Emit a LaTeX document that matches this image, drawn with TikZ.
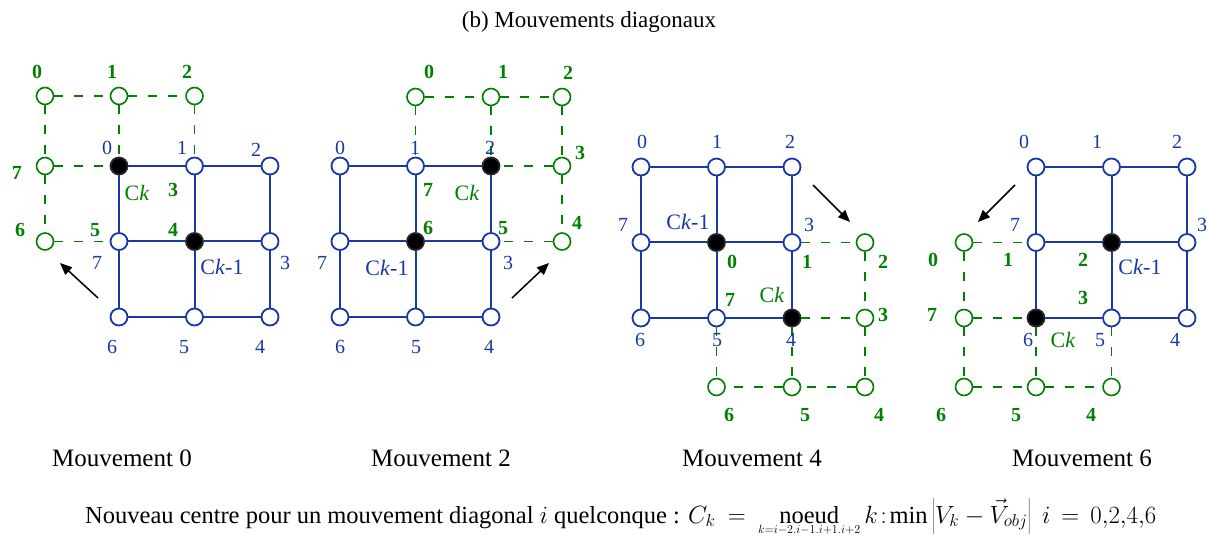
\documentclass[tikz,border=0pt]{standalone}
\usepackage{fontspec}
\setmainfont{Liberation Serif}
\usetikzlibrary{arrows.meta}
\definecolor{gridblue}{RGB}{25,55,165}
\definecolor{movegreen}{RGB}{0,128,0}
\tikzset{
  bnode/.style={circle,draw=gridblue,fill=white,line width=1.8pt,minimum size=17pt,inner sep=0pt},
  bfull/.style={bnode,draw=black!85,fill=black},
  gnode/.style={circle,draw=movegreen,fill=white,line width=1.6pt,minimum size=17pt,inner sep=0pt},
  bline/.style={draw=gridblue,line width=2pt},
  gline/.style={draw=movegreen,line width=1.8pt,dash pattern=on 9pt off 11pt},
  blab/.style={text=gridblue,font=\fontsize{20}{24}\selectfont,inner sep=0pt},
  glab/.style={text=movegreen,font=\bfseries\fontsize{20}{24}\selectfont,inner sep=0pt},
  clab/.style={font=\fontsize{22}{26}\selectfont,inner sep=0pt},
  caption/.style={font=\fontsize{25}{29}\selectfont},
  move/.style={draw=black,line width=1.5pt,->},
}
\def\Ck{C\textit{k}}
\def\Ckm{C\textit{k}-1}
\def\d{75.5}

% blue 3x3 grid, #1 = corner that becomes the new centre
\newcommand{\bluegrid}[1]{%
  \foreach \n/\px/\py in {0/0/0,1/1/0,2/2/0,3/2/1,4/2/2,5/1/2,6/0/2,7/0/1}{
    \ifnum\n=#1
      \node[bfull] (b\n) at (\px*\d,\py*\d) {};
    \else
      \node[bnode] (b\n) at (\px*\d,\py*\d) {};
    \fi
  }
  \node[bfull] (bc) at (\d,\d) {};
  \draw[bline] (b0) -- (b1) -- (b2) -- (b3) -- (b4) -- (b5) -- (b6) -- (b7) -- (b0);
  \draw[bline] (b1) -- (bc) -- (b5) (b7) -- (bc) -- (b3);
}

\begin{document}
\begin{tikzpicture}[x=1pt,y=-1pt,>={Triangle[length=12pt,width=10pt]}]
    \useasboundingbox (0,0) rectangle (1209,537);

    \node[font=\fontsize{23}{27}\selectfont] (title) at (589,22) {(b) Mouvements diagonaux};

    \begin{scope}[shift={(119,166)}]
        \bluegrid{0}
        \node[gnode] (n0) at (-74,-70) {};
        \node[gnode] (n1) at (0,-70) {};
        \node[gnode] (n2) at (\d,-70) {};
        \node[gnode] (n7) at (-74,0) {};
        \node[gnode] (n6) at (-74,\d) {};
        \draw[gline] (n0) -- (n1);
        \draw[gline] (n1) -- (n2);
        \draw[gline] (n0) -- (n7);
        \draw[gline] (n7) -- (n6);
        \draw[gline] (n1) -- (b0);
        \draw[gline] (n2) -- (b1);
        \draw[gline] (n7) -- (b0);
        \draw[gline] (n6) -- (b7);

        \node[blab] (l0) at (-12,-18) {0};
        \node[blab] (l1) at (63,-18) {1};
        \node[blab] (l2) at (137,-16) {2};
        \node[blab] (l3) at (166,97) {3};
        \node[blab] (l4) at (141,181) {4};
        \node[blab] (l5) at (65,181) {5};
        \node[blab] (l6) at (-7,181) {6};
        \node[blab] (l7) at (-22,97) {7};
        \node[blab,clab] (lc) at (103,101) {\Ckm};

        \node[glab] (k0) at (-82,-94) {0};
        \node[glab] (k1) at (-7,-94) {1};
        \node[glab] (k2) at (68,-94) {2};
        \node[glab] (k3) at (54,24) {3};
        \node[glab] (k4) at (54,64) {4};
        \node[glab] (k5) at (-24,64) {5};
        \node[glab] (k6) at (-99,64) {6};
        \node[glab] (k7) at (-102,7) {7};
        \node[glab,clab] (kc) at (18,27) {\Ck};

        \coordinate (a0) at (-21,132);
        \coordinate (a1) at (-59,97);
        \draw[move] (a0) -- (a1);
    \end{scope}

    \begin{scope}[shift={(340,166)}]
        \bluegrid{2}
        \node[gnode] (n0) at (\d,-69) {};
        \node[gnode] (n1) at (151,-69) {};
        \node[gnode] (n2) at (222,-69) {};
        \node[gnode] (n3) at (222,0) {};
        \node[gnode] (n4) at (222,\d) {};
        \draw[gline] (n0) -- (n1);
        \draw[gline] (n1) -- (n2);
        \draw[gline] (n2) -- (n3);
        \draw[gline] (n3) -- (n4);
        \draw[gline] (n0) -- (b1);
        \draw[gline] (n1) -- (b2);
        \draw[gline] (n3) -- (b2);
        \draw[gline] (n4) -- (b3);

        \node[blab] (l0) at (0,-18) {0};
        \node[blab] (l1) at (75,-18) {1};
        \node[blab] (l2) at (150,-18) {2};
        \node[blab] (l3) at (168,97) {3};
        \node[blab] (l4) at (149,181) {4};
        \node[blab] (l5) at (76,181) {5};
        \node[blab] (l6) at (0,181) {6};
        \node[blab] (l7) at (-18,97) {7};
        \node[blab,clab] (lc) at (47,102) {\Ckm};

        \node[glab] (k0) at (89,-94) {0};
        \node[glab] (k1) at (163,-94) {1};
        \node[glab] (k2) at (228,-93) {2};
        \node[glab] (k3) at (240,-13) {3};
        \node[glab] (k4) at (237,57) {4};
        \node[glab] (k5) at (163,62) {5};
        \node[glab] (k6) at (88,62) {6};
        \node[glab] (k7) at (88,24) {7};
        \node[glab,clab] (kc) at (127,27) {\Ck};

        \coordinate (a0) at (172,132);
        \coordinate (a1) at (209,97);
        \draw[move] (a0) -- (a1);
    \end{scope}

    \begin{scope}[shift={(641,167)}]
        \bluegrid{4}
        \node[gnode] (n2) at (224,\d) {};
        \node[gnode] (n3) at (224,151) {};
        \node[gnode] (n4) at (224,220) {};
        \node[gnode] (n5) at (151,220) {};
        \node[gnode] (n6) at (\d,220) {};
        \draw[gline] (b3) -- (n2);
        \draw[gline] (n2) -- (n3);
        \draw[gline] (n3) -- (n4);
        \draw[gline] (n4) -- (n5);
        \draw[gline] (n5) -- (n6);
        \draw[gline] (b4) -- (n3);
        \draw[gline] (b4) -- (n5);
        \draw[gline] (b5) -- (n6);

        \node[blab] (l0) at (1,-25) {0};
        \node[blab] (l1) at (76,-25) {1};
        \node[blab] (l2) at (149,-25) {2};
        \node[blab] (l3) at (168,58) {3};
        \node[blab] (l4) at (150,173) {4};
        \node[blab] (l5) at (76,173) {5};
        \node[blab] (l6) at (-1,173) {6};
        \node[blab] (l7) at (-18,58) {7};
        \node[blab,clab] (lc) at (47,55) {\Ckm};

        \node[glab] (k0) at (91,95) {0};
        \node[glab] (k1) at (166,95) {1};
        \node[glab] (k2) at (242,95) {2};
        \node[glab] (k3) at (242,148) {3};
        \node[glab] (k4) at (238,248) {4};
        \node[glab] (k5) at (164,248) {5};
        \node[glab] (k6) at (88,248) {6};
        \node[glab] (k7) at (89,133) {7};
        \node[glab,clab] (kc) at (131,128) {\Ck};

        \coordinate (a0) at (172,18);
        \coordinate (a1) at (209,55);
        \draw[move] (a0) -- (a1);
    \end{scope}

    \begin{scope}[shift={(1036,167)}]
        \bluegrid{6}
        \node[gnode] (n0) at (-72,\d) {};
        \node[gnode] (n7) at (-72,151) {};
        \node[gnode] (n6) at (-72,220) {};
        \node[gnode] (n5) at (0,220) {};
        \node[gnode] (n4) at (\d,220) {};
        \draw[gline] (n0) -- (b7);
        \draw[gline] (n0) -- (n7);
        \draw[gline] (n7) -- (n6);
        \draw[gline] (n6) -- (n5);
        \draw[gline] (n5) -- (n4);
        \draw[gline] (n7) -- (b6);
        \draw[gline] (b6) -- (n5);
        \draw[gline] (b5) -- (n4);

        \node[blab] (l0) at (-12,-25) {0};
        \node[blab] (l1) at (61,-25) {1};
        \node[blab] (l2) at (141,-25) {2};
        \node[blab] (l3) at (166,58) {3};
        \node[blab] (l4) at (139,173) {4};
        \node[blab] (l5) at (64,173) {5};
        \node[blab] (l6) at (-8,173) {6};
        \node[blab] (l7) at (-21,58) {7};
        \node[blab,clab] (lc) at (104,100) {\Ckm};

        \node[glab] (k0) at (-103,93) {0};
        \node[glab] (k1) at (-28,93) {1};
        \node[glab] (k2) at (47,93) {2};
        \node[glab] (k3) at (47,131) {3};
        \node[glab] (k4) at (55,248) {4};
        \node[glab] (k5) at (-20,248) {5};
        \node[glab] (k6) at (-95,248) {6};
        \node[glab] (k7) at (-104,148) {7};
        \node[glab,clab] (kc) at (27,173) {\Ck};

        \coordinate (a0) at (-21,18);
        \coordinate (a1) at (-58,55);
        \draw[move] (a0) -- (a1);
    \end{scope}

    \node[caption] (cap0) at (122,458) {Mouvement 0};
    \node[caption] (cap2) at (441,458) {Mouvement 2};
    \node[caption] (cap4) at (752,458) {Mouvement 4};
    \node[caption] (cap6) at (1082,458) {Mouvement 6};

    \node[anchor=base west,inner sep=0pt,font=\fontsize{24.5}{28}\selectfont] (formula) at (85,523)
        {Nouveau centre pour un mouvement diagonal $i$ quelconque : $C_k\:=\:\mathop{\mbox{noeud}}\limits_{\scriptscriptstyle k=i-2.i-1.i+1.i+2}k\!:\!\min\left|V_k-\vec{V}_{obj}\right|\;i\,=\,0{,}2{,}4{,}6$};

\end{tikzpicture}
\end{document}
